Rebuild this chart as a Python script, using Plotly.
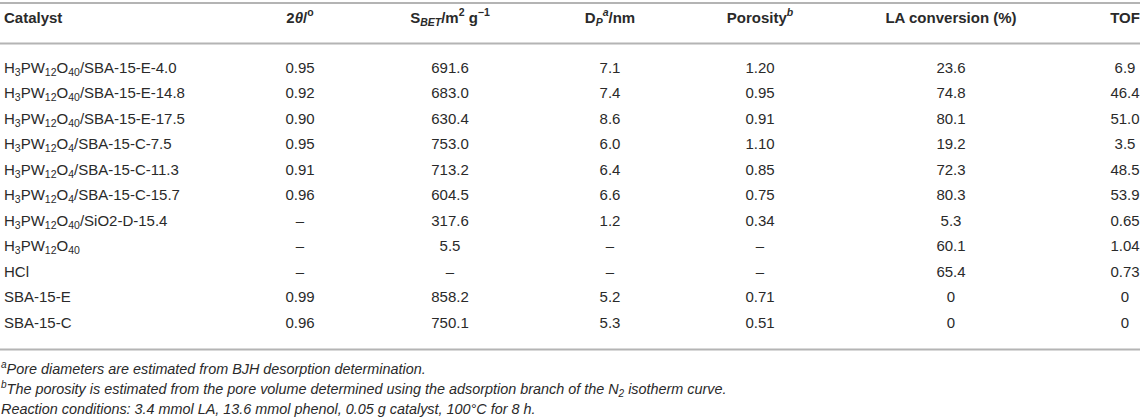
import plotly.graph_objects as go

catalysts = [
    "H<sub>3</sub>PW<sub>12</sub>O<sub>40</sub>/SBA-15-E-4.0",
    "H<sub>3</sub>PW<sub>12</sub>O<sub>40</sub>/SBA-15-E-14.8",
    "H<sub>3</sub>PW<sub>12</sub>O<sub>40</sub>/SBA-15-E-17.5",
    "H<sub>3</sub>PW<sub>12</sub>O<sub>4</sub>/SBA-15-C-7.5",
    "H<sub>3</sub>PW<sub>12</sub>O<sub>4</sub>/SBA-15-C-11.3",
    "H<sub>3</sub>PW<sub>12</sub>O<sub>4</sub>/SBA-15-C-15.7",
    "H<sub>3</sub>PW<sub>12</sub>O<sub>40</sub>/SiO2-D-15.4",
    "H<sub>3</sub>PW<sub>12</sub>O<sub>40</sub>",
    "HCl",
    "SBA-15-E",
    "SBA-15-C",
]
two_theta = ["0.95", "0.92", "0.90", "0.95", "0.91", "0.96", "–", "–", "–", "0.99", "0.96"]
s_bet = ["691.6", "683.0", "630.4", "753.0", "713.2", "604.5", "317.6", "5.5", "–", "858.2", "750.1"]
d_p = ["7.1", "7.4", "8.6", "6.0", "6.4", "6.6", "1.2", "–", "–", "5.2", "5.3"]
porosity = ["1.20", "0.95", "0.91", "1.10", "0.85", "0.75", "0.34", "–", "–", "0.71", "0.51"]
la_conversion = ["23.6", "74.8", "80.1", "19.2", "72.3", "80.3", "5.3", "60.1", "65.4", "0", "0"]
tof = ["6.9", "46.4", "51.0", "3.5", "48.5", "53.9", "0.65", "1.04", "0.73", "0", "0"]

headers = [
    "Catalyst",
    "2<i>θ</i>/<sup>o</sup>",
    "S<sub><i>BET</i></sub>/m<sup>2</sup> g<sup>−1</sup>",
    "D<sub><i>P</i></sub><sup><i>a</i></sup>/nm",
    "Porosity<sup><i>b</i></sup>",
    "LA conversion (%)",
    "TOF",
]
footnotes = [
    "<sup>a</sup>Pore diameters are estimated from BJH desorption determination.",
    "<sup>b</sup>The porosity is estimated from the pore volume determined using the adsorption branch of the N<sub>2</sub> isotherm curve.",
    "Reaction conditions: 3.4 mmol LA, 13.6 mmol phenol, 0.05 g catalyst, 100°C for 8 h.",
]

W, H = 1143, 420
FONT = "Liberation Sans, Arial, sans-serif"
TXT = "#2a2a2a"
RULE = "#b4b4b4"

col_x = [4, 300, 450, 610, 760, 951, 1125]
col_pos = ["middle right"] + ["middle center"] * 6
header_y = 19
row_top = 69
row_h = 25.5
rule_ys = [3, 43.5, 349.5]
foot_y0 = 370.5
foot_h = 20

columns = [catalysts, two_theta, s_bet, d_p, porosity, la_conversion, tof]
n = len(catalysts)
row_ys = [row_top + i * row_h for i in range(n)]

fig = go.Figure()
for j, col in enumerate(columns):
    fig.add_trace(go.Scatter(
        x=[col_x[j]] * n, y=row_ys, text=col, mode="text",
        textposition=col_pos[j], hoverinfo="skip", showlegend=False,
        textfont=dict(family=FONT, size=15, color=TXT),
    ))
fig.add_trace(go.Scatter(
    x=col_x, y=[header_y] * len(headers), text=["<b>%s</b>" % h for h in headers],
    mode="text", textposition=col_pos, hoverinfo="skip", showlegend=False,
    textfont=dict(family=FONT, size=15, color=TXT),
))
fig.add_trace(go.Scatter(
    x=[1] * len(footnotes), y=[foot_y0 + k * foot_h for k in range(len(footnotes))],
    text=["<i>%s</i>" % f for f in footnotes], mode="text",
    textposition="middle right", hoverinfo="skip", showlegend=False,
    textfont=dict(family=FONT, size=14.4, color=TXT),
))

for ry in rule_ys:
    fig.add_shape(type="line", x0=0, x1=1140, y0=ry, y1=ry, xref="x", yref="y",
                  line=dict(color=RULE, width=2))

fig.update_layout(
    width=W, height=H, margin=dict(l=0, r=0, t=0, b=0),
    paper_bgcolor="white", plot_bgcolor="white",
    xaxis=dict(range=[0, W], visible=False, fixedrange=True),
    yaxis=dict(range=[H, 0], visible=False, fixedrange=True),
)
fig.write_html("out.html", config={"displayModeBar": False},
               post_script="document.body.style.margin='0px';document.body.style.overflow='hidden';")
